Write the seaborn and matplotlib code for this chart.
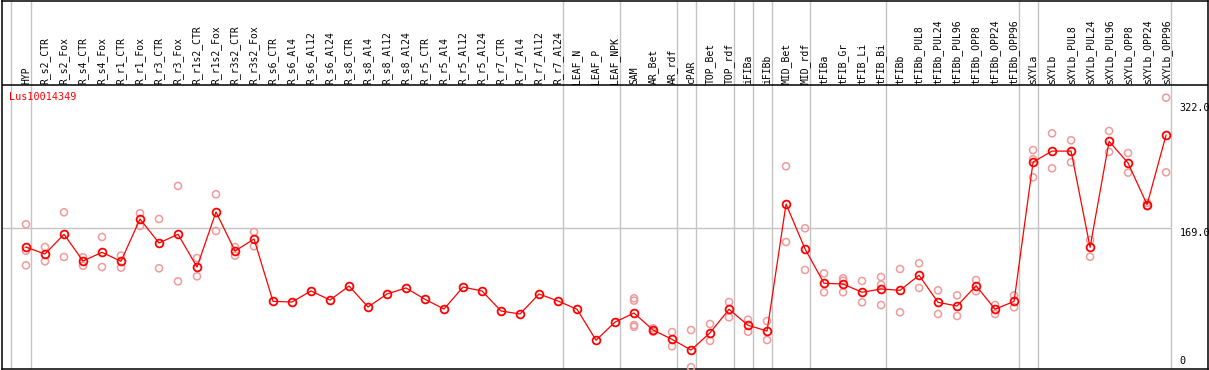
import matplotlib
matplotlib.use("Agg")
import matplotlib.pyplot as plt
import seaborn as sns
import pandas as pd
import numpy as np

# ---------------- data ----------------
gene = "Lus10014349"

categories = [
    "HYP", "R_s2_CTR", "R_s2_Fox", "R_s4_CTR", "R_s4_Fox", "R_r1_CTR", "R_r1_Fox",
    "R_r3_CTR", "R_r3_Fox", "R_r1s2_CTR", "R_r1s2_Fox", "R_r3s2_CTR", "R_r3s2_Fox",
    "R_s6_CTR", "R_s6_Al4", "R_s6_Al12", "R_s6_Al24", "R_s8_CTR", "R_s8_Al4",
    "R_s8_Al12", "R_s8_Al24", "R_r5_CTR", "R_r5_Al4", "R_r5_Al12", "R_r5_Al24",
    "R_r7_CTR", "R_r7_Al4", "R_r7_Al12", "R_r7_Al24", "LEAF_N", "LEAF_P", "LEAF_NPK",
    "SAM", "AR_Bet", "AR_rdf", "cPAR", "TOP_Bet", "TOP_rdf", "iFIBa", "iFIBb",
    "MID_Bet", "MID_rdf", "tFIBa", "tFIB_Gr", "tFIB_Li", "tFIB_Bi", "tFIBb",
    "tFIBb_PUL8", "tFIBb_PUL24", "tFIBb_PUL96", "tFIBb_OPP8", "tFIBb_OPP24",
    "tFIBb_OPP96", "sXYLa", "sXYLb", "sXYLb_PUL8", "sXYLb_PUL24", "sXYLb_PUL96",
    "sXYLb_OPP8", "sXYLb_OPP24", "sXYLb_OPP96",
]

mean_values = [
    146, 137.5, 161.7, 129, 139.6, 128.6, 180.4, 151, 161.7, 121.6, 189, 141.2, 155.9,
    79.6, 78.8, 92.3, 81.2, 98.4, 72.7, 88.6, 96, 82.1, 70.2, 97.1, 92.3,
    67.8, 64.1, 88.6, 80, 69.9, 32, 54.2,
    65.3, 44.5, 33.1, 20, 41.1, 69.9, 50.3, 43.3,
    198.7, 143.7, 101.7, 100.8, 90.7, 94.7, 93.1,
    111.5, 78.4, 73.9, 98.8, 69.9, 79.6,
    250.1, 263.5, 263.5, 145.7, 275.5, 248.9, 197.9, 283.2,
]

replicates = [
    [173.9, 141.6, 123.7], [146.1, 128.6], [188.6, 133.9], [133.5, 123.2],
    [158.4, 121.6], [135.5, 120.8], [187.4, 171.8], [180.4, 120.0],
    [220.8, 104.1], [132.6, 110.2], [210.6, 165.7], [146.1, 135.5], [164.5, 147.0],
    [], [], [], [], [], [], [], [], [], [], [], [], [], [], [], [], [], [], [],
    [83.3, 80.5, 50.6, 48.5], [46.6, 42.4], [42.0, 24.6], [44.5, -1.0],
    [51.9, 31.2], [78.8, 60.0], [57.1, 42.4], [55.5, 32.3],
    [244.9, 152.2], [169.0, 118.0], [113.9, 90.7], [107.8, 104.9, 90.7],
    [104.5, 78.4], [109.4, 100.0, 75.1], [119.2, 66.2],
    [126.2, 96.0], [93.1, 64.1], [87.0, 61.7], [105.7, 91.9], [75.1, 64.1],
    [87.0, 72.3],
    [264.8, 253.5, 231.4], [285.3, 242.4], [276.7, 249.8], [154.7, 134.2],
    [288.1, 262.4], [261.2, 237.1], [200.0, 196.0], [328.9, 237.5],
]

group_ends = [0, 28, 31, 34, 35, 37, 38, 39, 41, 45, 52, 53, 60]
ytick_values = [322.0, 169.0, 0]
ytick_labels = ["322.0", "169.0", "0"]

# ---------------- frames ----------------
x_idx = np.arange(len(categories))
df_mean = pd.DataFrame({"x": x_idx, "value": mean_values})
rx, ry = [], []
for i, reps in enumerate(replicates):
    for v in reps:
        rx.append(i)
        ry.append(v)
df_rep = pd.DataFrame({"x": rx, "value": ry})

# ---------------- figure ----------------
W, H = 1209, 370
fig = plt.figure(figsize=(W / 100, H / 100), dpi=100)
sns.set_style("white")
ax = fig.add_axes([1.5 / W, 1.0 / H, 1206 / W, 368.5 / H])

mono = ["DejaVu Sans Mono"]
red = "#ff0000"
pink = "#f09a9a"
grid = "#c4c4c4"

ax.set_xlim(-1.289, 62.18)
ax.set_ylim(-3.2, 447.8)

# group separators
for g in [-0.8] + [e + 0.25 for e in group_ends]:
    ax.axvline(g, color=grid, lw=1.0, zorder=1)
ax.hlines(169.0, -1.289, 60.25, color=grid, lw=1.0, zorder=1)
ax.axhline(344.0, color="black", lw=1.1, zorder=2)

sns.scatterplot(data=df_rep, x="x", y="value", ax=ax, marker="o", s=26,
                facecolors="none", edgecolors=pink, linewidths=1.1, zorder=3,
                clip_on=False, legend=False)
sns.lineplot(data=df_mean, x="x", y="value", ax=ax, color=red, lw=0.9,
             marker="o", markersize=5.6, markerfacecolor="none",
             markeredgecolor=red, markeredgewidth=1.3, sort=False,
             errorbar=None, zorder=4, legend=False)

# column labels
for i, lab in enumerate(categories):
    ax.text(i, 346.2, lab, rotation=90, ha="center", va="bottom",
            fontsize=7, family=mono, color="black")

# y labels on the right
ax.text(60.7, ytick_values[0], ytick_labels[0], ha="left", va="top",
        fontsize=7.3, family=mono, color="black")
ax.text(60.7, ytick_values[1], ytick_labels[1], ha="left", va="top",
        fontsize=7.3, family=mono, color="black")
ax.text(60.7, ytick_values[2] + 0.5, ytick_labels[2], ha="left", va="bottom",
        fontsize=7.3, family=mono, color="black")

ax.text(-0.9, 336.0, gene, ha="left", va="top", fontsize=7.3, family=mono,
        color=red)

ax.set_xticks([])
ax.set_yticks([])
ax.set_xlabel("")
ax.set_ylabel("")
for s in ax.spines.values():
    s.set_visible(True)
    s.set_color("black")
    s.set_linewidth(1.1)

fig.savefig("out.png", dpi=100)
